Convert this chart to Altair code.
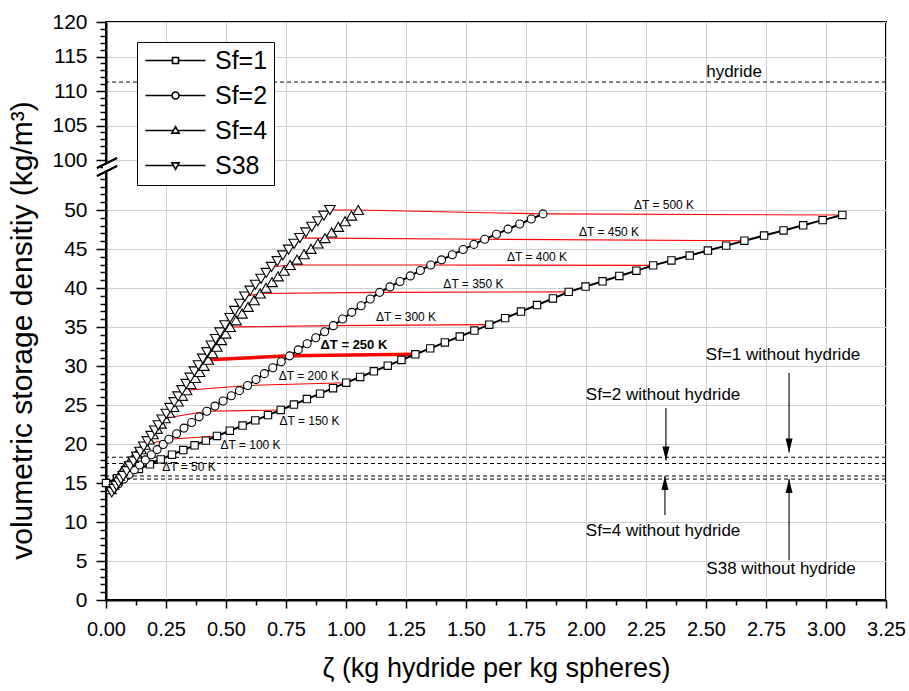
import altair as alt
import pandas as pd

# Temperature-lift steps (K) at which each curve is sampled
DT_STEPS = list(range(0, 501, 10))
SERIES = ["Sf=1", "Sf=2", "Sf=4", "S38"]

ZETA_SF1 = [0.000, 0.046, 0.092, 0.137, 0.183, 0.228, 0.275, 0.322, 0.369, 0.416, 0.4625,
            0.516, 0.569, 0.622, 0.675, 0.728, 0.783, 0.837, 0.892, 0.946, 1.001,
            1.059, 1.116, 1.174, 1.231, 1.289, 1.351, 1.412, 1.474, 1.535, 1.597,
            1.663, 1.729, 1.796, 1.862, 1.928, 1.998, 2.069, 2.139, 2.210, 2.280,
            2.356, 2.432, 2.508, 2.584, 2.660, 2.742, 2.823, 2.905, 2.986, 3.068]
RHO_SF1 = [15.0, 15.6, 16.2, 16.8, 17.4, 18.03, 18.63, 19.23, 19.83, 20.43, 21.03,
           21.70, 22.36, 23.03, 23.70, 24.36, 25.06, 25.76, 26.46, 27.16, 27.86,
           28.59, 29.32, 30.04, 30.77, 31.5, 32.26, 33.02, 33.78, 34.54, 35.3,
           36.14, 36.98, 37.82, 38.66, 39.5, 40.18, 40.86, 41.54, 42.22, 42.9,
           43.53, 44.16, 44.80, 45.43, 46.06, 46.72, 47.38, 48.04, 48.70, 49.36]

ZETA_SF2 = [0.030, 0.052, 0.074, 0.096, 0.118, 0.140, 0.164, 0.189, 0.213, 0.238, 0.262,
            0.294, 0.325, 0.357, 0.388, 0.420, 0.454, 0.488, 0.522, 0.556, 0.590,
            0.625, 0.660, 0.695, 0.730, 0.765, 0.801, 0.838, 0.874, 0.911, 0.947,
            0.986, 1.024, 1.063, 1.101, 1.140, 1.183, 1.225, 1.268, 1.310, 1.353,
            1.398, 1.443, 1.488, 1.533, 1.578, 1.627, 1.675, 1.724, 1.772, 1.821]
RHO_SF2 = [14.30, 14.90, 15.50, 16.10, 16.70, 17.30, 17.96, 18.62, 19.28, 19.94, 20.6,
           21.32, 22.04, 22.76, 23.48, 24.2, 24.86, 25.52, 26.18, 26.84, 27.5,
           28.26, 29.02, 29.78, 30.54, 31.3, 32.07, 32.85, 33.62, 34.40, 35.17,
           36.02, 36.88, 37.73, 38.59, 39.44, 40.14, 40.84, 41.55, 42.25, 42.95,
           43.61, 44.27, 44.93, 45.59, 46.25, 46.90, 47.55, 48.20, 48.85, 49.5]

ZETA_SF4 = [0.020, 0.032, 0.044, 0.055, 0.067, 0.079, 0.096, 0.113, 0.129, 0.146, 0.1625,
            0.179, 0.196, 0.213, 0.229, 0.246, 0.264, 0.282, 0.300, 0.318, 0.336,
            0.354, 0.372, 0.390, 0.408, 0.426, 0.444, 0.462, 0.481, 0.499, 0.517,
            0.542, 0.567, 0.592, 0.617, 0.642, 0.667, 0.692, 0.717, 0.742, 0.767,
            0.796, 0.825, 0.854, 0.883, 0.9125, 0.940, 0.968, 0.996, 1.023, 1.051]
RHO_SF4 = [14.20, 14.78, 15.36, 15.94, 16.52, 17.10, 17.66, 18.22, 18.78, 19.34, 19.9,
           20.58, 21.26, 21.94, 22.62, 23.3, 24.02, 24.74, 25.46, 26.18, 26.9,
           27.68, 28.46, 29.24, 30.02, 30.8, 31.64, 32.48, 33.32, 34.16, 35.0,
           35.86, 36.72, 37.58, 38.44, 39.3, 40.03, 40.76, 41.49, 42.22, 42.95,
           43.64, 44.33, 45.02, 45.71, 46.4, 47.12, 47.84, 48.56, 49.28, 50.0]

ZETA_S38 = [0.024, 0.034, 0.043, 0.053, 0.062, 0.072, 0.086, 0.100, 0.114, 0.128, 0.142,
            0.157, 0.172, 0.188, 0.203, 0.218, 0.234, 0.251, 0.267, 0.284, 0.300,
            0.317, 0.334, 0.351, 0.368, 0.385, 0.403, 0.421, 0.439, 0.457, 0.475,
            0.496, 0.517, 0.537, 0.558, 0.579, 0.601, 0.623, 0.646, 0.668, 0.690,
            0.714, 0.737, 0.761, 0.784, 0.808, 0.833, 0.858, 0.883, 0.908, 0.933]
RHO_S38 = [13.80, 14.22, 14.64, 15.06, 15.48, 15.90, 16.52, 17.14, 17.76, 18.38, 19.0,
           19.68, 20.36, 21.04, 21.72, 22.4, 23.14, 23.88, 24.62, 25.36, 26.1,
           26.9, 27.7, 28.5, 29.3, 30.1, 30.94, 31.78, 32.62, 33.46, 34.3,
           35.22, 36.14, 37.06, 37.98, 38.9, 39.66, 40.42, 41.18, 41.94, 42.7,
           43.44, 44.18, 44.92, 45.66, 46.4, 47.12, 47.84, 48.56, 49.28, 50.0]

# Isotherm labels
ISO_DT = [50, 100, 150, 200, 250, 300, 350, 400, 450, 500]
ISO_LABEL_ZETA = [0.346, 0.602, 0.848, 0.845, 1.033, 1.250, 1.531, 1.796, 2.096, 2.325]
ISO_LABEL_RHO = [17.01, 19.83, 22.99, 28.75, 32.7, 36.3, 40.5, 44.0, 47.2, 50.6]
HIGHLIGHT_DT = 250

# Densities of the bare sphere beds and of the hydride itself
NO_HYDRIDE_RHO = [18.3, 17.5, 15.9, 15.5]
HYDRIDE_RHO = 111.3

ANNOT_TEXT = ["Sf=1 without hydride", "Sf=2 without hydride",
              "Sf=4 without hydride", "S38 without hydride"]
ANNOT_ZETA = [2.821, 2.321, 2.321, 2.8125]
ANNOT_RHO = [31.4, 26.3, 8.85, 3.97]
ARROW_ZETA = [2.846, 2.333, 2.329, 2.846]
ARROW_FROM = [29.1, 24.6, 10.9, 5.1]
ARROW_TIP = [18.9, 17.9, 15.9, 15.5]
ARROW_DIR = ["down", "down", "up", "up"]

X_TICKS = [0.0, 0.25, 0.5, 0.75, 1.0, 1.25, 1.5, 1.75, 2.0, 2.25, 2.5, 2.75, 3.0, 3.25]
X_MINOR = [0.125, 0.375, 0.625, 0.875, 1.125, 1.375, 1.625, 1.875, 2.125, 2.375,
           2.625, 2.875, 3.125]
Y_TICKS = [0, 5, 10, 15, 20, 25, 30, 35, 40, 45, 50, 100, 105, 110, 115, 120]
Y_MINOR = [v for v in range(1, 55) if v % 5] + [v for v in range(99, 120) if v % 5]

FONT = "Liberation Sans"
W, H = 780, 578

# long table of all curves
rows = []
for name, zs, rs in zip(SERIES, [ZETA_SF1, ZETA_SF2, ZETA_SF4, ZETA_S38],
                        [RHO_SF1, RHO_SF2, RHO_SF4, RHO_S38]):
    for dt, z, r in zip(DT_STEPS, zs, rs):
        rows.append({"series": name, "dT": dt, "zeta": z, "rho": r})
curves = pd.DataFrame(rows)
iso = curves[(curves.dT % 50 == 0) & (curves.dT > 0)]

x_scale = alt.Scale(domain=[0, 3.25], nice=False, zero=False)
# broken axis: 0-55 and 99-120 share the same frame
y_scale = alt.Scale(domain=[0, 55, 99, 120], range=[H, 149, 145, 0], nice=False, zero=False)


def X(field="zeta", axis=None):
    return alt.X(f"{field}:Q", scale=x_scale, axis=axis)


def Y(field="rho", axis=None):
    return alt.Y(f"{field}:Q", scale=y_scale, axis=axis)


major_x = alt.Axis(values=X_TICKS, format=".2f", orient="bottom", grid=True,
                   gridColor="#cfcfcf", gridWidth=1, tickSize=8, tickWidth=1.5,
                   tickColor="black", domainColor="black", domainWidth=2,
                   labelFontSize=20, labelPadding=11, labelColor="black",
                   labelFlush=False, labelOverlap=False,
                   title="ζ (kg hydride per kg spheres)", titleFontSize=27,
                   titleFontWeight="normal", titleColor="black", titleY=68,
                   titleBaseline="middle")
major_y = alt.Axis(values=Y_TICKS, orient="left", grid=True, gridColor="#cfcfcf",
                   gridWidth=1, tickSize=10, tickWidth=1.5, tickColor="black",
                   domainColor="black", domainWidth=2, labelFontSize=21,
                   labelPadding=9, labelColor="black", labelFlush=False,
                   labelOverlap=False,
                   title="volumetric storage densitiy (kg/m³)", titleFontSize=30,
                   titleFontWeight="normal", titleColor="black", titleX=-84,
                   titleY=308, titleBaseline="middle")
minor_x = alt.Axis(values=X_MINOR, orient="bottom", grid=False, labels=False,
                   domain=False, tickSize=5, tickWidth=1.5, tickColor="black", title=None)
minor_y = alt.Axis(values=Y_MINOR, orient="left", grid=False, labels=False,
                   domain=False, tickSize=6, tickWidth=1.5, tickColor="black", title=None)

base = alt.Chart(curves)

# reference densities (dashed)
ref_df = pd.DataFrame({"rho": NO_HYDRIDE_RHO + [HYDRIDE_RHO]})
refs = alt.Chart(ref_df).mark_rule(color="black", strokeDash=[4, 3], strokeWidth=1).encode(
    y=Y())

# isotherms joining equal temperature lift across the curves
isotherms = alt.Chart(iso).mark_line(color="#ff0000").encode(
    x=X(), y=Y(), detail="dT:N", order="zeta:Q",
    strokeWidth=alt.condition(f"datum.dT == {HIGHLIGHT_DT}", alt.value(3.5), alt.value(1.1)))

curve_lines = base.mark_line(color="black", strokeWidth=2).encode(
    x=X(axis=major_x), y=Y(axis=major_y), detail="series:N", order="dT:Q")

MARKERS = {"Sf=1": ("square", 54), "Sf=2": ("circle", 64),
           "Sf=4": ("triangle-up", 110), "S38": ("triangle-down", 110)}
marker_layers = [
    base.transform_filter(alt.datum.series == name).mark_point(
        shape=shape, size=size, filled=True, fill="white", stroke="black",
        strokeWidth=1.1, opacity=1).encode(x=X(), y=Y())
    for name, (shape, size) in MARKERS.items()
]

# legend entries: line with the series marker in its middle
LEGEND_PATHS = [
    "M-1,0H1.7M2.3,0H5M1.7,-0.3H2.3V0.3H1.7Z",
    "M-1,0H1.65M2.35,0H5M2.35,0A0.35,0.35,0,1,1,1.65,0A0.35,0.35,0,1,1,2.35,0Z",
    "M-1,0H1.8M2.2,0H5M2,-0.38L2.36,0.26H1.64Z",
    "M-1,0H1.8M2.2,0H5M2,0.38L2.36,-0.26H1.64Z",
]
legend_df = pd.DataFrame({"series": SERIES, "zeta": [-1.0] * 4, "rho": [20.0] * 4})
legend_layer = alt.Chart(legend_df).mark_point(
    filled=False, color="black", strokeWidth=1.6, opacity=1, clip=True
).encode(
    x=X(axis=minor_x), y=Y(axis=minor_y),
    shape=alt.Shape("series:N", scale=alt.Scale(domain=SERIES, range=LEGEND_PATHS),
                    legend=alt.Legend(orient="none", legendX=31, legendY=20, title=None,
                                      labelFontSize=25, labelFont=FONT, labelColor="black",
                                      symbolSize=400, symbolStrokeWidth=1.6,
                                      symbolStrokeColor="black", symbolOpacity=1,
                                      labelOffset=47, padding=6, rowPadding=9,
                                      strokeColor="black", fillColor="white")))

iso_df = pd.DataFrame({"dT": ISO_DT, "zeta": ISO_LABEL_ZETA, "rho": ISO_LABEL_RHO})
iso_df["label"] = ["ΔT = %d K" % v for v in ISO_DT]
iso_labels = alt.Chart(iso_df).transform_filter(f"datum.dT != {HIGHLIGHT_DT}").mark_text(
    fontSize=12, color="black", align="center", baseline="middle"
).encode(x=X(), y=Y(), text="label:N")
iso_label_bold = alt.Chart(iso_df).transform_filter(f"datum.dT == {HIGHLIGHT_DT}").mark_text(
    fontSize=13, fontWeight="bold", color="black", align="center", baseline="middle"
).encode(x=X(), y=Y(), text="label:N")

annot_df = pd.DataFrame({"text": ANNOT_TEXT + ["hydride"],
                         "zeta": ANNOT_ZETA + [2.617], "rho": ANNOT_RHO + [112.8]})
annots = alt.Chart(annot_df).mark_text(fontSize=17, color="black", align="center",
                                       baseline="middle").encode(
    x=X(), y=Y(), text="text:N")

arrow_df = pd.DataFrame({"zeta": ARROW_ZETA, "rho": ARROW_FROM, "tip": ARROW_TIP,
                         "dir": ARROW_DIR})
arrow_shafts = alt.Chart(arrow_df).mark_rule(color="black", strokeWidth=1.1).encode(
    x=X(), y=Y(), y2="tip:Q")
arrow_down = alt.Chart(arrow_df).transform_filter(alt.datum.dir == "down").mark_point(
    shape="M-0.5,-2L0.5,-2L0,0Z", size=196, filled=True, color="black", opacity=1
).encode(x=X(), y=Y("tip"))
arrow_up = alt.Chart(arrow_df).transform_filter(alt.datum.dir == "up").mark_point(
    shape="M-0.5,2L0.5,2L0,0Z", size=196, filled=True, color="black", opacity=1
).encode(x=X(), y=Y("tip"))

# axis break marks on the left frame
brk_gap = alt.Chart(legend_df).mark_rect(color="white").encode(
    x=alt.value(-3), x2=alt.value(3), y=alt.value(141), y2=alt.value(149))
brk1 = alt.Chart(legend_df).mark_rule(color="black", strokeWidth=1.5).encode(
    x=alt.value(-9), x2=alt.value(11), y=alt.value(146), y2=alt.value(136))
brk2 = alt.Chart(legend_df).mark_rule(color="black", strokeWidth=1.5).encode(
    x=alt.value(-9), x2=alt.value(11), y=alt.value(154), y2=alt.value(144))

chart = alt.layer(
    refs, isotherms, curve_lines, *marker_layers, legend_layer, iso_labels, iso_label_bold,
    annots, arrow_shafts, arrow_down, arrow_up, brk_gap, brk1, brk2
).resolve_axis(x="independent", y="independent").properties(
    width=W, height=H,
    autosize=alt.AutoSizeParams(type="none"),
    padding={"left": 106, "top": 22, "right": 23, "bottom": 91},
).configure(font=FONT).configure_view(stroke="black", strokeWidth=2)

chart.save("out.html", embed_options={"renderer": "svg", "actions": False})
